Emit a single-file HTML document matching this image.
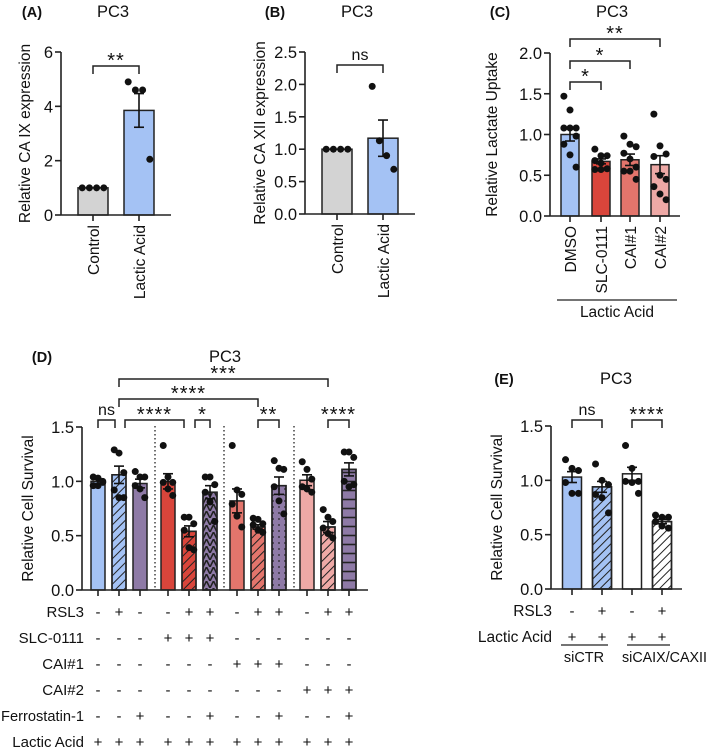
<!DOCTYPE html>
<html><head><meta charset="utf-8">
<style>
html,body{margin:0;padding:0;background:#fff;}
svg{display:block;font-family:"Liberation Sans",Arial,sans-serif;}
</style></head>
<body>
<svg id="fig" width="709" height="754" viewBox="0 0 709 754" xmlns="http://www.w3.org/2000/svg">
<defs>
<pattern id="hatch" patternUnits="userSpaceOnUse" width="6" height="6" patternTransform="rotate(45)"><rect width="6" height="6" fill="none"/><line x1="0" y1="0" x2="0" y2="6" stroke="#222" stroke-width="2"/></pattern>
<pattern id="zig" patternUnits="userSpaceOnUse" width="7" height="7"><path d="M0 7 L3.5 0 L7 7" fill="none" stroke="#222" stroke-width="1.6"/></pattern>
<pattern id="dots" patternUnits="userSpaceOnUse" width="6" height="6"><circle cx="3" cy="3" r="0.9" fill="#222"/></pattern>
<pattern id="hlines" patternUnits="userSpaceOnUse" width="6" height="9"><line x1="0" y1="4.5" x2="6" y2="4.5" stroke="#222" stroke-width="1.6"/></pattern>
</defs>
</svg>
<script>
// ---- Panel A data ----
const aCats = ["Control","Lactic Acid"];
const aMeans = [1.0, 3.85];
const aSem = [0, 0.62];
const aDots = [[1,1,1,1],[4.9,4.6,4.6,2.05]];
const aTicks = [0,2,4,6];
// ---- Panel B data ----
const bCats = ["Control","Lactic Acid"];
const bMeans = [1.0, 1.17];
const bSem = [0, 0.28];
const bDots = [[1,1,1,1],[1.97,1.13,0.9,0.69]];
const bTicks = ["0.0","0.5","1.0","1.5","2.0","2.5"];
// ---- Panel C data ----
const cCats = ["DMSO","SLC-0111","CAI#1","CAI#2"];
const cMeans = [1.0, 0.67, 0.69, 0.63];
const cSem = [0.08, 0.03, 0.07, 0.11];
const cDots = [[1.47,1.3,1.08,1.08,1.08,0.98,0.88,0.75,0.6],[0.82,0.74,0.74,0.68,0.65,0.58,0.57,0.57],[0.98,0.88,0.85,0.77,0.7,0.6,0.55,0.55,0.45],[1.25,0.86,0.76,0.73,0.5,0.45,0.36,0.27,0.2]];
const cTicks = ["0.0","0.5","1.0","1.5","2.0"];
// ---- Panel D data ----
const dMeans = [1.0,1.06,0.98,1.0,0.54,0.9,0.82,0.58,0.96,1.01,0.58,1.11];
const dSem = [0.02,0.08,0.04,0.07,0.05,0.06,0.11,0.02,0.08,0.05,0.05,0.06];
const dDots = [[1.04,1.03,0.99,0.96,0.96,1.0],[1.29,1.26,1.08,0.92,0.85,0.85],[1.09,1.04,1.04,0.96,0.93,0.85],[1.33,1.04,0.99,0.99,0.93,0.87],[0.67,0.67,0.61,0.55,0.39,0.37],[1.04,1.04,0.97,0.9,0.81,0.63],[1.33,0.92,0.88,0.79,0.68,0.58],[0.66,0.65,0.61,0.6,0.55,0.53],[1.19,1.12,1.11,0.95,0.82,0.7],[1.18,1.11,1.02,0.95,0.93,0.9],[0.74,0.67,0.63,0.57,0.52,0.48],[1.27,1.27,1.22,1.0,0.95,0.97]];
const dTicks = ["0.0","0.5","1.0","1.5"];
const dRowLabels = ["RSL3","SLC-0111","CAI#1","CAI#2","Ferrostatin-1","Lactic Acid"];
const dRows = [
 ["-","+","-","-","+","+","-","+","+","-","+","+"],
 ["-","-","-","+","+","+","-","-","-","-","-","-"],
 ["-","-","-","-","-","-","+","+","+","-","-","-"],
 ["-","-","-","-","-","-","-","-","-","+","+","+"],
 ["-","-","+","-","-","+","-","-","+","-","-","+"],
 ["+","+","+","+","+","+","+","+","+","+","+","+"]];
// ---- Panel E data ----
const eMeans = [1.03,0.94,1.06,0.62];
const eSem = [0.05,0.05,0.06,0.02];
const eDots = [[1.19,1.11,1.09,0.98,0.88,0.88],[1.15,1.0,0.96,0.87,0.84,0.7],[1.32,1.11,0.99,0.99,0.98,0.88],[0.68,0.66,0.66,0.62,0.58,0.56]];
const eTicks = ["0.0","0.5","1.0","1.5"];
const eRowLabels = ["RSL3","Lactic Acid"];
const eRows = [["-","+","-","+"],["+","+","+","+"]];

const NS="http://www.w3.org/2000/svg";
const svg=document.getElementById('fig');
function mk(tag,attrs,parent,text){const e=document.createElementNS(NS,tag);for(const k in attrs)e.setAttribute(k,attrs[k]);if(text!==undefined)e.textContent=text;(parent||svg).appendChild(e);return e;}
function txt(x,y,s,size,anchor,parent,extra){const t=mk('text',Object.assign({x:x,y:y,'font-size':size,'text-anchor':anchor||'middle',fill:'#111'},extra||{}),parent,s);return t;}

function panel(opt){
  const g=mk('g',{});
  
  
  const y=v=>opt.y0-(v-opt.min)/(opt.max-opt.min)*(opt.y0-opt.ytop);
  opt.means.forEach((m,i)=>{
    const cx=opt.cx[i], w=opt.bw;
    const b=mk('rect',{x:cx-w/2,y:y(m),width:w,height:opt.y0-y(m),fill:opt.colors[i],stroke:'#222','stroke-width':1.5},g);
    
    
    if(opt.patterns&&opt.patterns[i]){mk('rect',{x:cx-w/2,y:y(m),width:w,height:opt.y0-y(m),fill:'url(#'+opt.patterns[i]+')',stroke:'#222','stroke-width':1.5},g);}
  });
  opt.dots.forEach((arr,i)=>{
    const cx=opt.cx[i], n=arr.length;
    const k=n<=4?n:3;
    const sp=k===4?opt.bw*0.24:opt.bw*0.34;
    arr.forEach((v,j)=>{
      const off=((j%k)-(k-1)/2)*sp;
      const d=mk('circle',{cx:cx+off,cy:y(v),r:3.5,fill:'#111'},g);
      
      
    });
  });
  opt.means.forEach((m,i)=>{
    const s=opt.sem[i]; if(!s) return; const cx=opt.cx[i];
    mk('line',{x1:cx,y1:y(m-s),x2:cx,y2:y(m+s),stroke:'#111','stroke-width':1.6},g);
    mk('line',{x1:cx-5,y1:y(m+s),x2:cx+5,y2:y(m+s),stroke:'#111','stroke-width':1.6},g);
    mk('line',{x1:cx-5,y1:y(m-s),x2:cx+5,y2:y(m-s),stroke:'#111','stroke-width':1.6},g);
  });
  const ax=mk('g',{},g);  
  mk('line',{x1:opt.ax,y1:opt.ytop,x2:opt.ax,y2:opt.y0,stroke:'#222','stroke-width':1.6},ax);
  opt.ticks.forEach(t=>{const v=parseFloat(t);mk('line',{x1:opt.ax-6,y1:y(v),x2:opt.ax,y2:y(v),stroke:'#222','stroke-width':1.6},ax);txt(opt.ax-8,y(v)+6,t,16.5,'end',ax);});
  const xa=mk('g',{},g);  
  mk('line',{x1:opt.ax,y1:opt.y0,x2:opt.axEnd,y2:opt.y0,stroke:'#222','stroke-width':1.6},xa);
  opt.cx.forEach(cx=>mk('line',{x1:cx,y1:opt.y0,x2:cx,y2:opt.y0+6,stroke:'#222','stroke-width':1.6},xa));
  if(opt.cats){opt.cats.forEach((c,i)=>{txt(0,0,c,15.5,'end',xa,{transform:'translate('+(opt.cx[i]+6)+','+(opt.y0+10)+') rotate(-90)'});});}
  const yt=txt(0,0,opt.ytitle,15.5,'middle',g,{transform:'translate('+opt.ytx+','+(opt.ytop+opt.y0)/2+') rotate(-90)'});
   
  return {g:g,y:y};
}
function bracket(g,x1,x2,yb,label){
  mk('path',{d:'M'+x1+' '+(yb+8)+' L'+x1+' '+yb+' L'+x2+' '+yb+' L'+x2+' '+(yb+8),fill:'none',stroke:'#222','stroke-width':1.5},g);
  const isStar=label.indexOf('*')>=0;
  if(isStar) txt((x1+x2)/2,yb+1,label,20,'middle',g,{'letter-spacing':'1'});
  else txt((x1+x2)/2,yb-5,label,16,'middle',g);
}
function header(x1,lab,x2,title,yy){
  const a=txt(x1,yy,lab,14.5,'middle',null,{'font-weight':'bold'});
  const b=txt(x2,yy,title,16.5,'middle');
}

header(32,'(A)',113,'PC3',17);
const pA=panel({name:'panel-a',means:aMeans,sem:aSem,dots:aDots,cats:aCats,ticks:aTicks.map(String),min:0,max:6,y0:215,ytop:52,ax:61,axEnd:171,cx:[93,139],bw:30,colors:['#d3d3d3','#a4c2f4'],ytitle:'Relative CA IX expression',ytx:30});
bracket(pA.g,93,139,66,'**');
header(275,'(B)',357,'PC3',17);
const pB=panel({name:'panel-b',means:bMeans,sem:bSem,dots:bDots,cats:bCats,ticks:bTicks,min:0,max:2.5,y0:214,ytop:52,ax:305,axEnd:415,cx:[337,383],bw:30,colors:['#d3d3d3','#a4c2f4'],ytitle:'Relative CA XII expression',ytx:265});
bracket(pB.g,337,383,65,'ns');
header(500,'(C)',612,'PC3',17);
const pC=panel({name:'panel-c',means:cMeans,sem:cSem,dots:cDots,cats:cCats,ticks:cTicks,min:0,max:2,y0:216,ytop:53,ax:550,axEnd:680,cx:[570,601,630,660],bw:18,colors:['#a4c2f4','#d9453b','#e3756c','#eea9a6'],ytitle:'Relative Lactate Uptake',ytx:497});
bracket(pC.g,570,660,39,'**');
bracket(pC.g,570,630,61,'*');
bracket(pC.g,570,601,82,'*');
mk('line',{x1:557,y1:300,x2:677,y2:300,stroke:'#222','stroke-width':1.3},pC.g);
txt(617,317,'Lactic Acid',15.5,'middle',pC.g);
header(42,'(D)',225,'PC3',362);
const dcx=[98,119,140,168,189,210,237,258,279,307,328,349];
const pD=panel({name:'panel-d',means:dMeans,sem:dSem,dots:dDots,ticks:dTicks,min:0,max:1.5,y0:590,ytop:427,ax:82,axEnd:368,cx:dcx,bw:14,
 colors:['#a4c2f4','#a4c2f4','#8e7aa6','#d9453b','#d9453b','#8e7aa6','#e3756c','#e3756c','#8e7aa6','#eea9a6','#eea9a6','#8e7aa6'],
 patterns:[null,'hatch',null,null,'hatch','zig',null,'hatch','dots',null,'hatch','hlines'],ytitle:'Relative Cell Survival',ytx:33});
[155,224,294].forEach(x=>mk('line',{x1:x,y1:426,x2:x,y2:590,stroke:'#222','stroke-width':1.3,'stroke-dasharray':'1.5,2.5'},pD.g));
bracket(pD.g,119,328,379,'***');
bracket(pD.g,119,258,399,'****');
bracket(pD.g,98,115,420,'ns');
bracket(pD.g,125,184,420,'****');
bracket(pD.g,195,210,420,'*');
bracket(pD.g,258,279,420,'**');
bracket(pD.g,328,349,420,'****');
const dRowY=[612,638,664,690,716,742];
dRowLabels.forEach((l,r)=>{
  const rl=txt(84,dRowY[r]+5,l,15,'end',pD.g,l==='Ferrostatin-1'?{textLength:'83',lengthAdjust:'spacingAndGlyphs'}:{});
   
  dRows[r].forEach((s,i)=>txt(dcx[i],dRowY[r]+5,s,15,'middle',pD.g));
});
header(504,'(E)',616,'PC3',384);
const ecx=[572,602,632,662];
const pE=panel({name:'panel-e',means:eMeans,sem:eSem,dots:eDots,ticks:eTicks,min:0,max:1.5,y0:589,ytop:426,ax:551,axEnd:682,cx:ecx,bw:19,
 colors:['#a4c2f4','#a4c2f4','#ffffff','#ffffff'],patterns:[null,'hatch',null,'hatch'],ytitle:'Relative Cell Survival',ytx:502});
bracket(pE.g,572,602,420,'ns');
bracket(pE.g,632,662,420,'****');
const eRowY=[611,637];
eRowLabels.forEach((l,r)=>{
  const rl=txt(552,eRowY[r]+5,l,15.5,'end',pE.g);
   
  eRows[r].forEach((s,i)=>txt(ecx[i],eRowY[r]+5,s,15,'middle',pE.g));
});
mk('line',{x1:561,y1:645,x2:608,y2:645,stroke:'#222','stroke-width':1.2},pE.g);
mk('line',{x1:627,y1:645,x2:670,y2:645,stroke:'#222','stroke-width':1.2},pE.g);
txt(584,662,'siCTR',14.5,'middle',pE.g);
txt(622,662,'siCAIX/CAXII',14.5,'start',pE.g,{textLength:'85',lengthAdjust:'spacingAndGlyphs'});
</script>
</body></html>
